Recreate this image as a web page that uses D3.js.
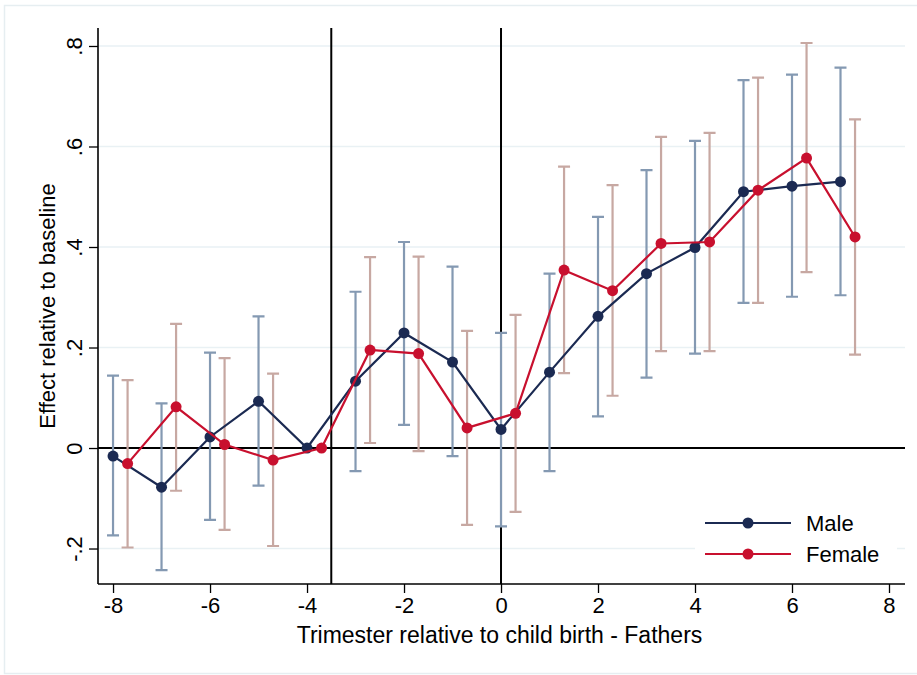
<!DOCTYPE html>
<html>
<head>
<meta charset="utf-8">
<script src="https://cdn.jsdelivr.net/npm/d3@7"></script>
<style>
	body { margin: 0; background: #fff; }
	svg text { font-family: "Liberation Sans", Arial, sans-serif; fill: #000; }
</style>
</head>
<body>
<div id="chart"></div>
<script>
'use strict';

// trimester relative to birth, estimates and 95% CI
const trimesters = [-8, -7, -6, -5, -4, -3, -2, -1, 0, 1, 2, 3, 4, 5, 6, 7];
const female_dodge = 0.3;

const male_b  = [-0.016, -0.078, 0.022, 0.093, 0, 0.133, 0.229, 0.171, 0.037, 0.151, 0.262, 0.347, 0.399, 0.510, 0.521, 0.530];
const male_lo = [-0.174, -0.243, -0.143, -0.075, null, -0.046, 0.046, -0.016, -0.156, -0.046, 0.063, 0.140, 0.188, 0.289, 0.301, 0.304];
const male_hi = [0.144, 0.089, 0.190, 0.262, null, 0.311, 0.410, 0.361, 0.229, 0.347, 0.460, 0.553, 0.611, 0.732, 0.743, 0.757];

const female_b  = [-0.031, 0.082, 0.007, -0.024, 0, 0.195, 0.188, 0.040, 0.069, 0.354, 0.313, 0.407, 0.410, 0.513, 0.577, 0.420];
const female_lo = [-0.198, -0.085, -0.163, -0.195, null, 0.010, -0.006, -0.153, -0.127, 0.149, 0.104, 0.193, 0.193, 0.289, 0.350, 0.186];
const female_hi = [0.135, 0.247, 0.179, 0.148, null, 0.380, 0.381, 0.233, 0.265, 0.560, 0.523, 0.619, 0.627, 0.737, 0.806, 0.654];

const x_ticks = [-8, -6, -4, -2, 0, 2, 4, 6, 8];
const y_ticks = [-0.2, 0, 0.2, 0.4, 0.6, 0.8];
const x_lines = [-3.5, 0];

const width = 917, height = 675;
const margin = { top: 28, right: 12, bottom: 91, left: 98 };

const colors = {
	male: "#1b2a52",
	female: "#c8102e",
	male_ci: "#8499b2",
	female_ci: "#c7a8a2",
	grid: "#e9f1f4"
};

const x = d3.scaleLinear()
	.domain([-8.31, 8.33])
	.range([margin.left, width - margin.right]);

const y = d3.scaleLinear()
	.domain([-0.2706, 0.8358])
	.range([height - margin.bottom, margin.top]);

function make_series(offset, b, lo, hi)
{
	return trimesters.map((t, i) => ({ t: t + offset, b: b[i], lo: lo[i], hi: hi[i] }));
}

const male = make_series(0, male_b, male_lo, male_hi);
const female = make_series(female_dodge, female_b, female_lo, female_hi);

// stata style labels: -.2, 0, .2 ...
function y_label(d)
{
	if (Math.abs(d) < 1e-9) return "0";
	return d.toFixed(1).replace("0.", ".");
}

const svg = d3.select("#chart")
	.append("svg")
		.attr("width", width)
		.attr("height", height);

// outer graph border
svg.append("rect")
	.attr("x", 4.5).attr("y", 5.5)
	.attr("width", width + 10).attr("height", height - 7)
	.attr("fill", "#fff")
	.attr("stroke", "#e6eef1")
	.attr("stroke-width", 1.5);

// grid lines
svg.append("g")
	.attr("class", "grid")
	.selectAll("line")
	.data(y_ticks.filter(d => d != 0))
	.join("line")
		.attr("x1", x.range()[0]).attr("x2", x.range()[1])
		.attr("y1", d => y(d)).attr("y2", d => y(d))
		.attr("stroke", colors.grid)
		.attr("stroke-width", 1.5);

// reference lines
svg.append("line")
	.attr("x1", x.range()[0]).attr("x2", x.range()[1])
	.attr("y1", y(0)).attr("y2", y(0))
	.attr("stroke", "#000")
	.attr("stroke-width", 2);

svg.append("g")
	.selectAll("line")
	.data(x_lines)
	.join("line")
		.attr("x1", d => x(d)).attr("x2", d => x(d))
		.attr("y1", y.range()[0]).attr("y2", y.range()[1])
		.attr("stroke", "#000")
		.attr("stroke-width", 2);

// axes
const yAxis = g => g
	.attr("transform", `translate(${margin.left},0)`)
	.call(d3.axisLeft(y).tickValues(y_ticks).tickSize(9).tickFormat(y_label))
	.call(g => g.select(".domain").attr("d", `M0,${y.range()[0]}V${y.range()[1]}`))
	.call(g => g.selectAll("line").attr("stroke-width", 1.3))
	.call(g => g.selectAll("text")
		.attr("font-size", 22)
		.attr("x", 0).attr("dy", null)
		.attr("transform", "translate(-24,0) rotate(-90)")
		.attr("text-anchor", "middle")
		.attr("dominant-baseline", "central"));

const xAxis = g => g
	.attr("transform", `translate(0,${height - margin.bottom})`)
	.call(d3.axisBottom(x).tickValues(x_ticks).tickSize(9).tickFormat(d => String(d)))
	.call(g => g.select(".domain").attr("d", `M${x.range()[0]},0H${x.range()[1]}`))
	.call(g => g.selectAll("line").attr("stroke-width", 1.3))
	.call(g => g.selectAll("text").attr("font-size", 22).attr("y", 13));

svg.append("g").attr("class", "y-axis").call(yAxis);
svg.append("g").attr("class", "x-axis").call(xAxis);

svg.selectAll(".domain").attr("stroke", "#000").attr("stroke-width", 1.6);
svg.selectAll(".tick text").attr("fill", "#000").attr("font-family", "'Liberation Sans', Arial, sans-serif");

// axis titles
svg.append("text")
	.attr("x", (x.range()[0] + x.range()[1]) / 2 - 2)
	.attr("y", 643)
	.attr("text-anchor", "middle")
	.attr("font-size", 23)
	.text("Trimester relative to child birth - Fathers");

svg.append("text")
	.attr("transform", `translate(55,${(y.range()[0] + y.range()[1]) / 2}) rotate(-90)`)
	.attr("text-anchor", "middle")
	.attr("font-size", 22)
	.text("Effect relative to baseline");

// confidence interval caps
function draw_caps(data, color)
{
	const cap = 6;
	const g = svg.append("g")
		.attr("stroke", color)
		.attr("stroke-width", 2.2)
		.attr("fill", "none");
	g.selectAll("path")
		.data(data.filter(p => p.lo != null))
		.join("path")
			.attr("d", p => `M${x(p.t) - cap},${y(p.hi)}H${x(p.t) + cap}M${x(p.t)},${y(p.hi)}V${y(p.lo)}M${x(p.t) - cap},${y(p.lo)}H${x(p.t) + cap}`);
}

draw_caps(male, colors.male_ci);
draw_caps(female, colors.female_ci);

// connected lines
function draw_connected(data, color)
{
	const line = d3.line().x(p => x(p.t)).y(p => y(p.b));
	svg.append("path")
		.datum(data)
		.attr("d", line)
		.attr("fill", "none")
		.attr("stroke", color)
		.attr("stroke-width", 2.2);
	svg.append("g")
		.attr("fill", color)
		.selectAll("circle")
		.data(data)
		.join("circle")
			.attr("cx", p => x(p.t))
			.attr("cy", p => y(p.b))
			.attr("r", 5.5);
}

draw_connected(male, colors.male);
draw_connected(female, colors.female);

// legend
const legend_items = [
	{ label: "Male", color: colors.male },
	{ label: "Female", color: colors.female }
];

const legend = svg.append("g")
	.attr("class", "legend")
	.attr("transform", "translate(695,505)");

legend.append("rect")
	.attr("width", 202).attr("height", 68)
	.attr("fill", "#fff");

const item = legend.selectAll("g")
	.data(legend_items)
	.join("g")
		.attr("transform", (d, i) => `translate(0,${18 + i * 31})`);

item.append("line")
	.attr("x1", 10).attr("x2", 96)
	.attr("stroke", d => d.color)
	.attr("stroke-width", 2.2);
item.append("circle")
	.attr("cx", 53).attr("r", 5.5)
	.attr("fill", d => d.color);
item.append("text")
	.attr("x", 111)
	.attr("dy", "0.35em")
	.attr("font-size", 22)
	.text(d => d.label);
</script>
</body>
</html>
